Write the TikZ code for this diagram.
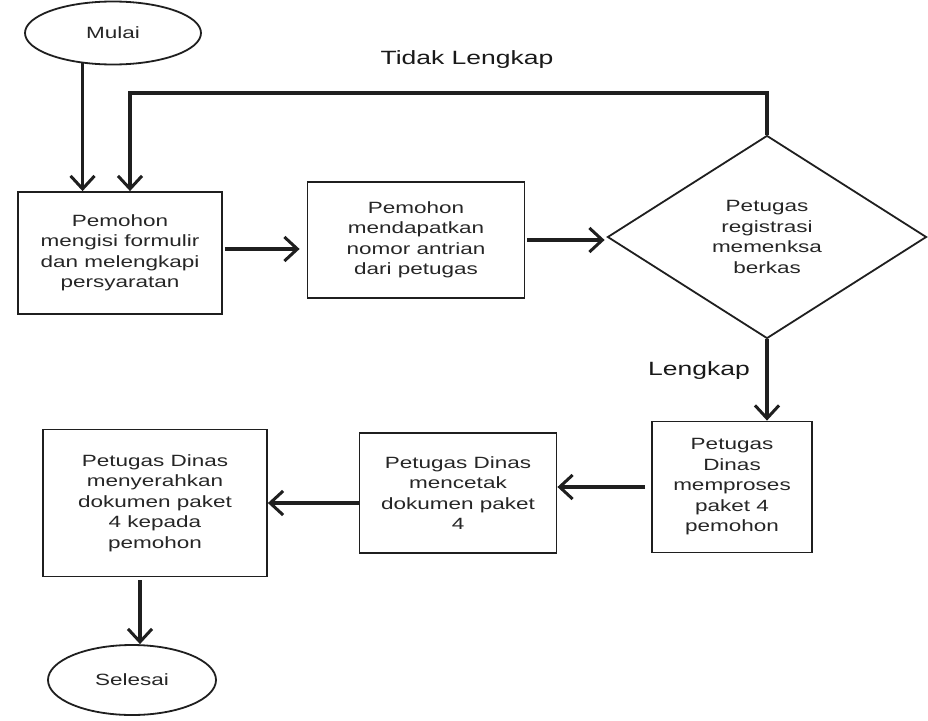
\documentclass[tikz,border=0pt]{standalone}
\usepackage{fontspec}
\setmainfont{Liberation Sans}[FakeStretch=1.38]
\usetikzlibrary{shapes.geometric,arrows.meta,calc}
\newcommand\boxtxt{\fontsize{16.3}{20.5}\selectfont}
\newcommand\lbltxt{\fontsize{19.2}{22}\selectfont}
\begin{document}
\begin{tikzpicture}[x=1pt,y=-1pt,
  shape base/.style={draw=black!88, line width=1.8pt, inner sep=0pt,
    align=center, font=\boxtxt, text=black!85},
  proc/.style={shape base, rectangle},
  term/.style={shape base, ellipse},
  decision/.style={shape base, diamond},
  flow/.style={draw=black!88, line width=3.6pt,
    -{Straight Barb[length=13pt,width=24pt,line width=3pt]}},
  lbl/.style={font=\lbltxt, text=black!90}]
\path[use as bounding box, fill=white] (0,0) rectangle (928,720);

% nodes
\node[term, minimum width=176pt, minimum height=63pt] (mulai) at (113,33) {Mulai};
\node[proc, minimum width=204pt, minimum height=122pt] (isi) at (120,253)
  {Pemohon\\mengisi formulir\\dan melengkapi\\persyaratan};
\node[proc, minimum width=217pt, minimum height=116pt] (antri) at (416,240)
  {Pemohon\\mendapatkan\\nomor antrian\\dari petugas};
\node[decision, minimum width=319pt, minimum height=203pt] (cek) at (767,237)
  {Petugas\\registrasi\\memenksa\\berkas};
\node[proc, minimum width=160pt, minimum height=131pt] (proses) at (732,487)
  {Petugas\\Dinas\\memproses\\paket 4\\pemohon};
\node[proc, minimum width=197pt, minimum height=120pt] (cetak) at (458,493)
  {Petugas Dinas\\mencetak\\dokumen paket\\4};
\node[proc, minimum width=224pt, minimum height=147pt] (serah) at (155,503)
  {Petugas Dinas\\menyerahkan\\dokumen paket\\4 kepada\\pemohon};
\node[term, minimum width=168pt, minimum height=70pt] (selesai) at (132,680) {Selesai};

% branch labels
\node[lbl] (tidak) at (467,60) {Tidak Lengkap};
\node[lbl] (lengkap) at (699,371) {Lengkap};

% connectors
\draw[flow] (mulai.225) -- (mulai.225 |- isi.north);
\coordinate (balik) at (130,93);
\draw[flow] (cek.north) |- (balik) -- (balik |- isi.north);
\draw[flow, shorten <=2pt, shorten >=7pt] ([yshift=4pt]isi.east) -- ([yshift=4pt]isi.east -| antri.west);
\draw[flow, shorten <=2pt, shorten >=2pt] (antri.east) -- (antri.east -| cek.west);
\draw[flow] (cek.south) -- (cek.south |- proses.north);
\draw[flow, shorten <=6pt] (proses.west) -- (proses.west -| cetak.east);
\draw[flow] (cetak.west |- serah.east) -- (serah.east);
\coordinate (turun) at ($(serah.south)+(-15,0)$);
\draw[flow, shorten <=3pt] (turun) -- (turun |- selesai.north);
\end{tikzpicture}
\end{document}
